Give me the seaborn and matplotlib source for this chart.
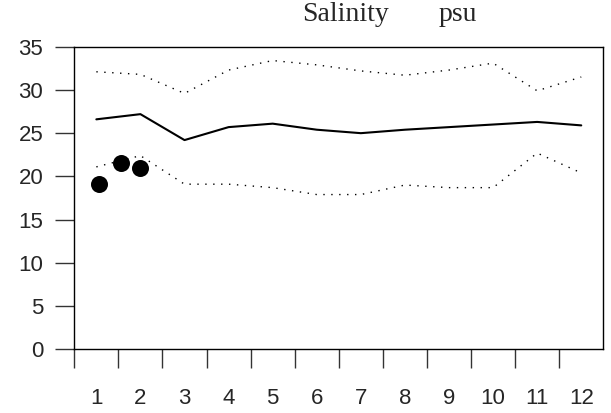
import numpy as np
import pandas as pd
import matplotlib
matplotlib.use("Agg")
import matplotlib.pyplot as plt
import seaborn as sns

# monthly salinity (psu): mean, upper and lower envelope
months = list(range(1, 13))
mean_sal = [26.6, 27.2, 24.2, 25.7, 26.1, 25.4, 25.0, 25.4, 25.7, 26.0, 26.3, 25.9]
upper_sal = [32.1, 31.8, 29.6, 32.3, 33.4, 32.9, 32.2, 31.7, 32.3, 33.1, 29.9, 31.5]
lower_sal = [21.1, 22.4, 19.1, 19.1, 18.7, 17.9, 17.9, 19.0, 18.7, 18.7, 22.7, 20.4]

# single observations
obs_x = [1.07, 1.55, 1.98]
obs_y = [19.1, 21.6, 21.0]

y_ticks = [0, 5, 10, 15, 20, 25, 30, 35]

sns.set_style("white")
plt.rcParams['font.family'] = ['Liberation Sans', 'DejaVu Sans']

df = pd.DataFrame({"month": months, "mean": mean_sal,
                   "upper": upper_sal, "lower": lower_sal})
obs = pd.DataFrame({"x": obs_x, "y": obs_y})

fig = plt.figure(figsize=(6.11, 4.13), dpi=100)
ax = fig.add_axes([0.1216, 0.1542, 0.8658, 0.7327])

sns.lineplot(data=df, x="month", y="mean", ax=ax, color="black", lw=1.5)
sns.lineplot(data=df, x="month", y="upper", ax=ax, color="black", lw=1.0,
             linestyle=(0, (1, 4.7)))
sns.lineplot(data=df, x="month", y="lower", ax=ax, color="black", lw=1.0,
             linestyle=(0, (1, 4.7)))
sns.scatterplot(data=obs, x="x", y="y", ax=ax, color="black", s=150,
                edgecolor="black", linewidth=0, zorder=5)

ax.set_xlim(0.5, 12.5)
ax.set_ylim(0, 35)
ax.set_xlabel("")
ax.set_ylabel("")

# boundary ticks without labels, month labels in between
ax.set_xticks(np.arange(0.5, 12, 1.0))
ax.set_xticklabels([])
ax.set_xticks(months, minor=True)
ax.set_xticklabels([str(m) for m in months], minor=True)
ax.tick_params(axis="x", which="major", direction="out", length=13.7, width=1.0,
               color="#333333", bottom=True)
ax.tick_params(axis="x", which="minor", length=0, pad=28, labelsize=16)

ax.set_yticks(y_ticks)
ax.tick_params(axis="y", direction="out", length=13.4, width=1.0,
               color="#333333", left=True, pad=9, labelsize=16)

for s in ax.spines.values():
    s.set_visible(True)
    s.set_color("black")
    s.set_linewidth(1.0)

fig.text(345 / 611, 1 - 20.7 / 413, "Salinity", family="Liberation Serif",
         fontsize=20, ha="center", va="baseline")
fig.text(458 / 611, 1 - 20.7 / 413, "psu", family="Liberation Serif",
         fontsize=20, ha="center", va="baseline")

fig.savefig("out.png", dpi=100)
